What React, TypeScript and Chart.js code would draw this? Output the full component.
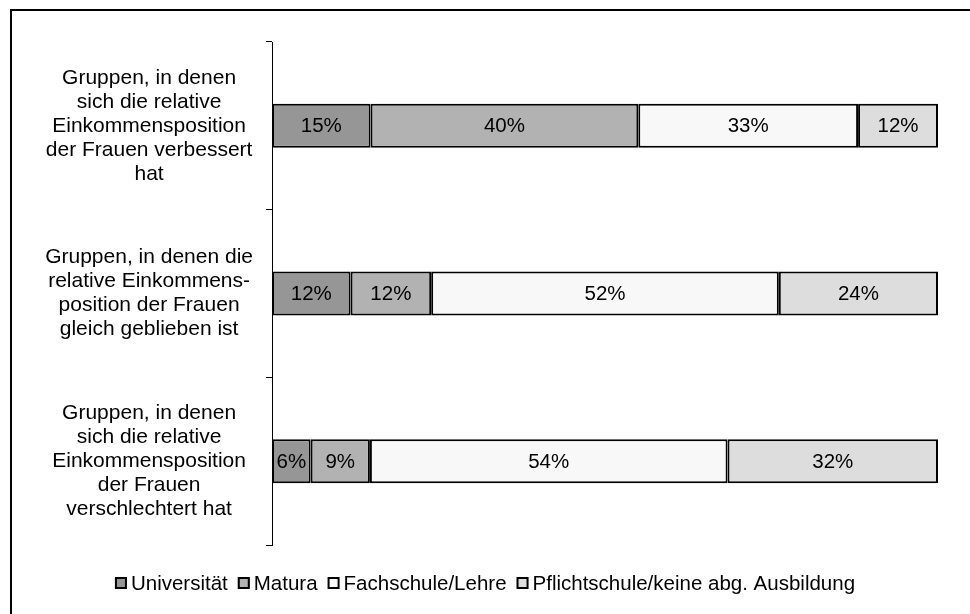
import React, { useEffect, useRef } from "react";
import { Chart, registerables } from "chart.js";

Chart.register(...registerables);

const categories: string[][] = [
  ["Gruppen, in denen", "sich die relative", "Einkommensposition", "der Frauen verbessert", "hat"],
  ["Gruppen, in denen die", "relative Einkommens-", "position der Frauen", "gleich geblieben ist"],
  ["Gruppen, in denen", "sich die relative", "Einkommensposition", "der Frauen", "verschlechtert hat"],
];

const seriesNames = ["Universität", "Matura", "Fachschule/Lehre", "Pflichtschule/keine abg. Ausbildung"];

const universitaet = [14.8, 11.8, 5.8];
const matura = [40.2, 12.1, 8.9];
const fachschule = [33.0, 52.2, 53.7];
const pflichtschule = [12.0, 23.9, 31.6];

const seriesColors = ["#969696", "#b2b2b2", "#f8f8f8", "#dddddd"];

const FONT = '"Liberation Sans", Arial, sans-serif';

const valueLabels = {
  id: "valueLabels",
  afterDatasetsDraw(chart: any) {
    const ctx = chart.ctx;
    ctx.save();
    ctx.font = `20.5px ${FONT}`;
    ctx.fillStyle = "#000";
    ctx.textAlign = "center";
    ctx.textBaseline = "middle";
    chart.data.datasets.forEach((ds: any, i: number) => {
      const meta = chart.getDatasetMeta(i);
      meta.data.forEach((el: any, j: number) => {
        const p = el.getCenterPoint();
        ctx.fillText(Math.round(ds.data[j]) + "%", p.x, p.y + 1);
      });
    });
    ctx.restore();
  },
};

const bottomLegend = {
  id: "bottomLegend",
  afterDraw(chart: any) {
    const ctx = chart.ctx;
    ctx.save();
    ctx.font = `20.5px ${FONT}`;
    const box = 12;
    const gapText = 4;
    const gapItem = 10;
    const items = chart.data.datasets.map((ds: any) => ({
      text: ds.label,
      color: ds.backgroundColor,
      w: ctx.measureText(ds.label).width,
    }));
    const total =
      items.reduce((s: number, it: any) => s + box + gapText + it.w, 0) + gapItem * (items.length - 1);
    let x = chart.width / 2 - 6 - total / 2;
    const y = chart.chartArea.bottom + 38;
    items.forEach((it: any) => {
      ctx.fillStyle = it.color;
      ctx.fillRect(x, y - box / 2, box, box);
      ctx.strokeStyle = "#000";
      ctx.lineWidth = 2;
      ctx.strokeRect(x + 1, y - box / 2 + 1, box - 2, box - 2);
      ctx.fillStyle = "#000";
      ctx.textAlign = "left";
      ctx.textBaseline = "middle";
      ctx.fillText(it.text, x + box + gapText, y + 1);
      x += box + gapText + it.w + gapItem;
    });
    ctx.restore();
  },
};

export default function App() {
  const ref = useRef<HTMLCanvasElement | null>(null);

  useEffect(() => {
    if (!ref.current) return;
    const values = [universitaet, matura, fachschule, pflichtschule];
    const chart = new Chart(ref.current, {
      type: "bar",
      data: {
        labels: categories,
        datasets: seriesNames.map((name, i) => ({
          label: name,
          data: values[i],
          backgroundColor: seriesColors[i],
          borderColor: "#000",
          borderWidth: 2,
          borderSkipped: false,
          categoryPercentage: 1,
          barPercentage: 0.262,
        })),
      },
      options: {
        indexAxis: "y",
        animation: false,
        responsive: true,
        maintainAspectRatio: false,
        layout: { padding: { top: 31, right: 32, left: 0, bottom: 69 } },
        font: { family: FONT },
        scales: {
          x: {
            stacked: true,
            min: 0,
            max: 100,
            display: false,
          },
          y: {
            stacked: true,
            grid: {
              drawOnChartArea: false,
              drawTicks: true,
              tickLength: 6,
              color: "#000",
              lineWidth: 1,
            },
            border: { display: true, color: "#000", width: 1 },
            ticks: {
              crossAlign: "center",
              padding: 13,
              color: "#000",
              font: { family: FONT, size: 21, lineHeight: 24 / 21 },
            },
            afterFit: (s: any) => {
              s.width = 260;
              s.paddingTop = 0;
              s.paddingBottom = 0;
            },
          },
        },
        plugins: {
          legend: { display: false },
          tooltip: { enabled: false },
        },
      },
      plugins: [valueLabels, bottomLegend],
    } as any);
    return () => chart.destroy();
  }, []);

  return (
    <div
      style={{
        position: "fixed",
        left: 10,
        top: 9,
        width: 1000,
        height: 700,
        borderTop: "2px solid #000",
        borderLeft: "2px solid #000",
        background: "#fff",
      }}
    >
      <div style={{ position: "absolute", left: 0, top: 0, width: 958, height: 603 }}>
        <canvas ref={ref} />
      </div>
    </div>
  );
}
